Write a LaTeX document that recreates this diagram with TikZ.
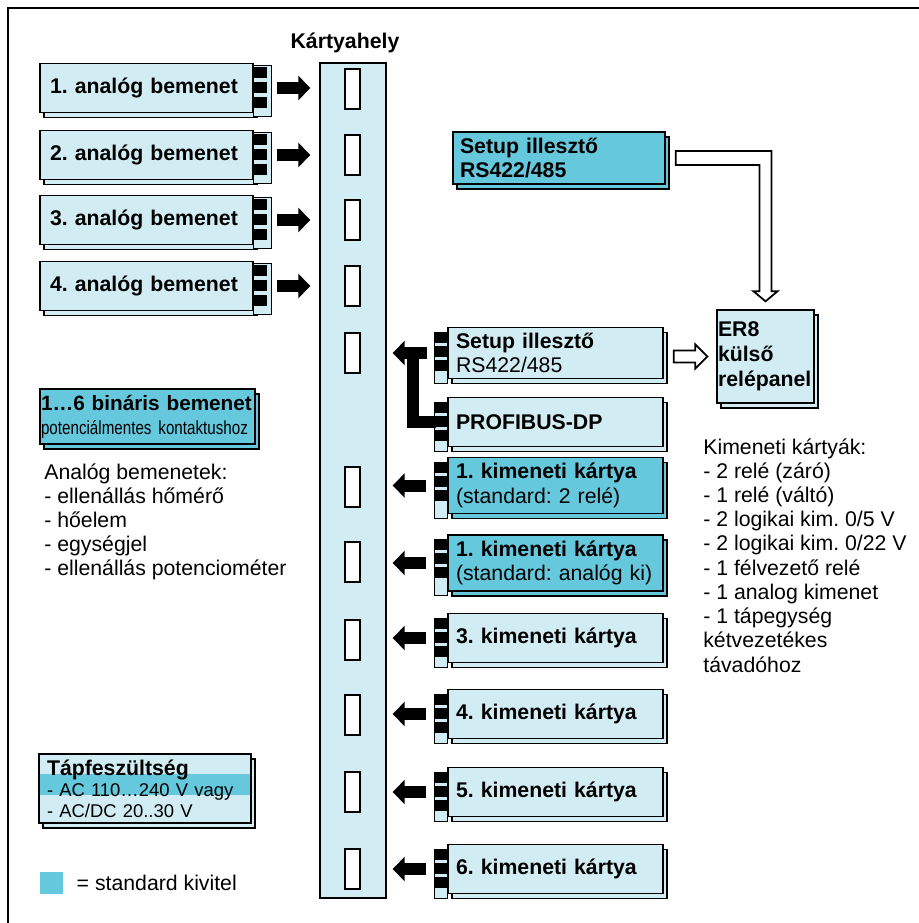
\documentclass[tikz,border=0pt]{standalone}
\usepackage{fontspec}
\setmainfont{Liberation Sans}
\newfontfamily\narrowfont[FakeStretch=0.8]{Liberation Sans}
\usetikzlibrary{positioning,shadows,calc,arrows.meta}

\definecolor{kartya}{HTML}{D2ECF4}
\definecolor{std}{HTML}{66C8DC}
\newcommand{\nagy}{\fontsize{12.1}{13.8}\selectfont}
\frenchspacing
\hyphenpenalty=10000

\begin{document}
\begin{tikzpicture}[x=0.02cm, y=-0.02cm,
  card/.style={rectangle, draw=black, line width=0.8pt, fill=kartya, copy shadow={shadow xshift=0.08cm, shadow yshift=-0.1cm}, align=left, font=\nagy\bfseries},
  incard/.style={card, minimum width=4.26cm, minimum height=0.98cm, inner xsep=0.2cm, text width=3.86cm},
  outcard/.style={card, minimum width=4.3cm, minimum height=0.98cm, inner xsep=0.16cm, text width=3.98cm},
  slotcol/.style={rectangle, draw=black, line width=0.8pt, fill=kartya, minimum width=1.32cm, minimum height=16.7cm},
  slot/.style={rectangle, draw=black, line width=1.3pt, fill=white, minimum width=0.3cm, minimum height=0.8cm, inner sep=0},
  fatarrow/.style={line width=0.24cm, -{Triangle[length=0.24cm, width=0.48cm]}},
  fatline/.style={line width=0.24cm},
  hollow/.style={draw=black, line width=1pt, fill=white, line join=miter}]

\useasboundingbox (0,0) rectangle (919,923);
\draw[line width=1.7pt] (8,940) -- (8,8) -- (940,8);

% kartyahely
\node[font=\nagy\bfseries] (kh) at (345,43) {Kártyahely};
\node[slotcol] (col) at (353,480.5) {};
\foreach \y [count=\i] in {89,155,220,286,353,487,562,640,715,792,869}
  \node[slot] (s\i) at (352.5,\y) {};

% bemeneti kartyak
\node[incard] (a1) at (146.5,88) {1. analóg bemenet};
\node[incard] (a2) at (146.5,155) {2. analóg bemenet};
\node[incard] (a3) at (146.5,220) {3. analóg bemenet};
\node[incard] (a4) at (146.5,286) {4. analóg bemenet};

% kimeneti kartyak
\node[outcard] (su) at (555.5,353) {Setup illesztő\\\mdseries RS422/485};
\node[outcard] (pd) at (555.5,422) {PROFIBUS-DP};
\node[outcard, fill=std, minimum height=0.94cm] (k1) at (555.5,485.5) {1. kimeneti kártya\\\mdseries (standard: 2 relé)};
\node[outcard, fill=std, minimum height=1.04cm] (k2) at (555.5,563) {1. kimeneti kártya\\\mdseries (standard: analóg ki)};
\node[outcard] (k3) at (555.5,638) {3. kimeneti kártya};
\node[outcard] (k4) at (555.5,714) {4. kimeneti kártya};
\node[outcard] (k5) at (555.5,792) {5. kimeneti kártya};
\node[outcard] (k6) at (555.5,869) {6. kimeneti kártya};

\foreach \c in {a1,a2,a3,a4} {
  \draw[fill=kartya, line width=0.5pt] ($(\c.north east)+(0,3)$) rectangle ($(\c.south east)+(18,3)$);
  \foreach \k in {0,1,2}
    \fill ($(\c.north east)+(0,4+\k*15)$) rectangle +(13,11);
}
\foreach \c in {su,pd,k1,k2,k3,k4,k5,k6} {
  \draw[fill=kartya, line width=0.5pt] ($(\c.north west)+(-13,8)$) rectangle ($(\c.south west)+(0,4)$);
  \foreach \k in {0,1,2}
    \fill ($(\c.north west)+(-13,5+\k*14)$) rectangle +(13,11);
}

% kulso egysegek
\node[card, fill=std, minimum width=4.24cm, minimum height=0.96cm, inner xsep=0.14cm, text width=3.96cm] (sk) at (559,158) {Setup illesztő\\RS422/485};
\node[card, minimum width=1.94cm, minimum height=1.86cm, inner xsep=0.02cm, text width=1.9cm, font=\fontsize{12.1}{14.2}\selectfont\bfseries] (er) at (765.5,356.5) {ER8\\külső\\relépanel};

\node[card, fill=std, minimum width=4.3cm, minimum height=0.94cm, inner xsep=0.02cm, text width=4.26cm, font=\fontsize{11.8}{13.8}\selectfont\bfseries] (bin) at (147.5,416.5) {\mbox{1…6 bináris bemenet}\\{\mdseries\narrowfont\fontsize{10.8}{13.8}\selectfont potenciálmentes kontaktushoz}};

\node[card, minimum width=4.24cm, minimum height=1.26cm, inner xsep=0.16cm, text width=3.92cm, font=\fontsize{10.5}{11.9}\selectfont,
  path picture={\fill[std] ($(path picture bounding box.north west)+(0,20)$) rectangle ($(path picture bounding box.north east)+(0,41)$);}]
  (tap) at (145,788.5) {{\bfseries\fontsize{12.1}{11.9}\selectfont Tápfeszültség}\\- AC 110…240 V vagy\\- AC/DC 20..30 V};

\node[anchor=north west, align=left, inner sep=0, font=\nagy] (ab) at (44,463) {Analóg bemenetek:\\- ellenállás hőmérő\\- hőelem\\- egységjel\\- ellenállás potenciométer};
\node[anchor=north west, align=left, inner sep=0, font=\nagy] (kk) at (703,438) {Kimeneti kártyák:\\- 2 relé (záró)\\- 1 relé (váltó)\\- 2 logikai kim. 0/5 V\\- 2 logikai kim. 0/22 V\\- 1 félvezető relé\\- 1 analog kimenet\\- 1 tápegység\\kétvezetékes\\távadóhoz};

\node[fill=std, minimum width=0.46cm, minimum height=0.44cm, inner sep=0] (lg) at (51.5,883) {};
\node[right=0.26cm of lg, inner sep=0, font=\nagy] (lgt) {= standard kivitel};

% nyilak
\foreach \c in {a1,a2,a3,a4}
  \draw[fatarrow, shorten <=0.46cm, shorten >=0.18cm] (\c.east) -- (\c.east -| col.west);
\foreach \c in {k1,k2,k3,k4,k5,k6}
  \draw[fatarrow, shorten <=0.42cm, shorten >=0.12cm] (\c.west) -- (\c.west -| col.east);
\draw[fatarrow, shorten <=0.4cm, shorten >=0.12cm] (su.west) -- (su.west -| col.east);
\draw[fatline, shorten <=0.22cm] (pd.west) -- ++(-34,0) coordinate (pdk) -- (pdk |- su.west);

\coordinate (hk) at (er.north |- sk.east);
\draw[hollow] ($(sk.east)+(10,-7)$) -- ($(hk)+(6,-7)$) -- ($(er.north)+(6,-18)$) -- ($(er.north)+(12,-18)$) -- ($(er.north)+(0,-8)$) -- ($(er.north)+(-12,-18)$) -- ($(er.north)+(-6,-18)$) -- ($(hk)+(-6,7)$) -- ($(sk.east)+(10,7)$) -- cycle;
\coordinate (hs) at (su.east |- er.west);
\draw[hollow] ($(hs)+(10,-6)$) -- ($(er.west)+(-21,-6)$) -- ($(er.west)+(-21,-12)$) -- ($(er.west)+(-9,0)$) -- ($(er.west)+(-21,12)$) -- ($(er.west)+(-21,6)$) -- ($(hs)+(10,6)$) -- cycle;

\end{tikzpicture}
\end{document}
